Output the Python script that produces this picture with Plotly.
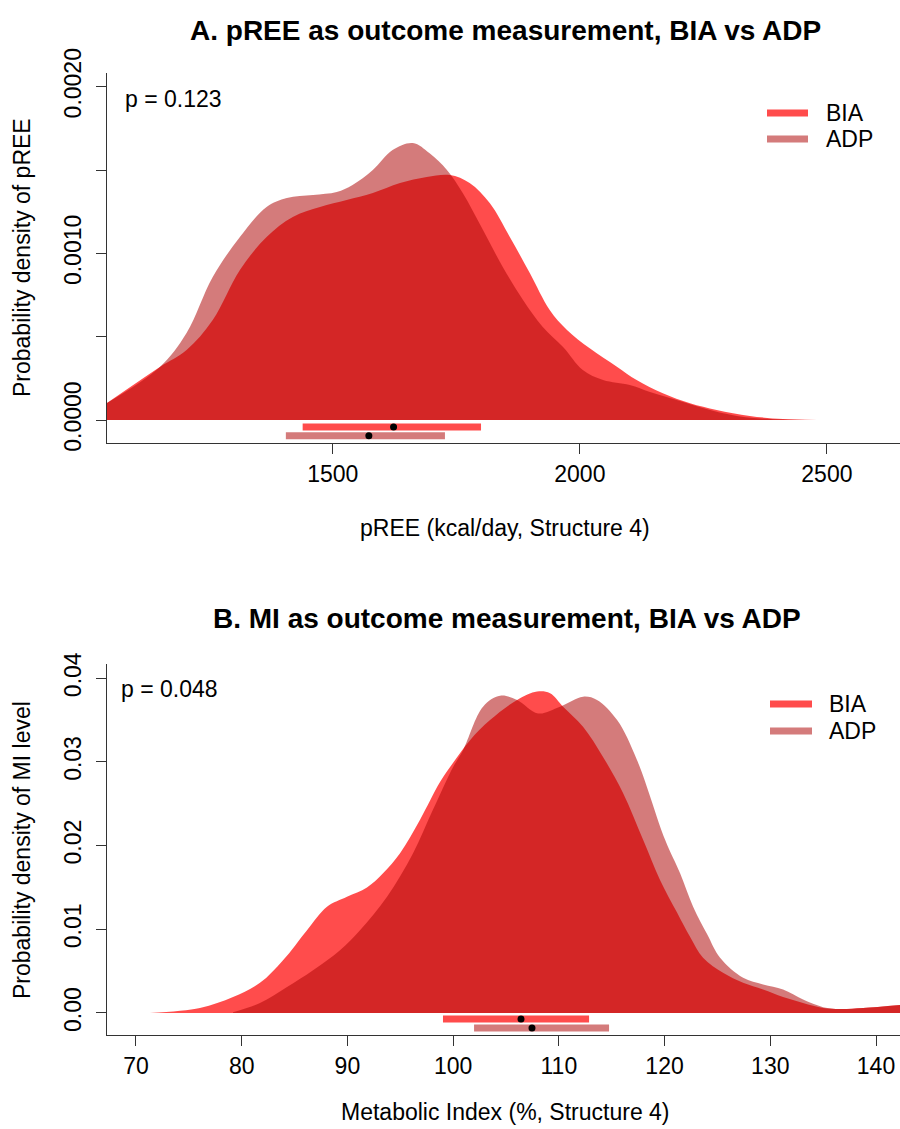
import plotly.graph_objects as go

# ---------------- Data ----------------
# Panel A: pREE densities (kcal/day)
pree_bia_x = [1043, 1150, 1204, 1257, 1312, 1366, 1419, 1474, 1528, 1581, 1636, 1690, 1737,
              1777, 1818, 1858, 1899, 1939, 1974, 2020, 2075, 2115, 2168, 2223, 2277, 2344, 2411, 2480]
pree_bia_d = [0.000102, 0.000318, 0.00042, 0.0006, 0.0009, 0.001098, 0.001218, 0.001278, 0.00132,
              0.001362, 0.001422, 0.001458, 0.00147, 0.001422, 0.0013, 0.0011, 0.00088, 0.00066,
              0.00054, 0.00043, 0.00032, 0.00024, 0.00016, 0.0001, 0.00006, 0.000024, 0.000006, 0.0]
pree_adp_x = [1043, 1150, 1204, 1257, 1312, 1366, 1407, 1460, 1508, 1540, 1581, 1621, 1662, 1696,
              1731, 1763, 1804, 1844, 1885, 1925, 1966, 2006, 2047, 2101, 2142, 2196, 2249, 2318,
              2385, 2472]
pree_adp_d = [0.000102, 0.000318, 0.000522, 0.000858, 0.001098, 0.001278, 0.001332, 0.00135,
              0.001368, 0.00141, 0.0015, 0.00162, 0.001662, 0.0016, 0.0015, 0.001362, 0.00114,
              0.000918, 0.00072, 0.000558, 0.000438, 0.0003, 0.00024, 0.00021, 0.000168, 0.00012,
              0.000072, 0.000024, 0.000006, 0.0]
# intervals (low, point, high)
pree_bia_ci = [1439, 1623, 1800]
pree_adp_ci = [1405, 1573, 1727]
pree_p = "p = 0.123"

# Panel B: Metabolic Index densities (%)
mi_bia_x = [71.32, 76.05, 79.18, 81.73, 83.91, 86.18, 88.07, 89.96, 91.85, 93.37, 94.98, 96.87,
            98.76, 100.0, 101.60, 103.49, 106.05, 107.94, 109.17, 110.40, 112.29, 114.18, 116.07,
            117.97, 119.57, 121.18, 122.41, 123.64, 125.53, 127.43, 129.32, 131.21, 133.10,
            134.99, 136.60, 138.78, 142.28]
mi_bia_d = [0.0, 0.0006, 0.0019, 0.0036, 0.0063, 0.0099, 0.0127, 0.0139, 0.0150, 0.0167, 0.0191,
            0.0231, 0.0276, 0.0299, 0.0326, 0.0350, 0.0374, 0.0384, 0.0382, 0.0366, 0.0342,
            0.0306, 0.0263, 0.0207, 0.0159, 0.0120, 0.0091, 0.0066, 0.0048, 0.0036, 0.0028,
            0.0019, 0.0012, 0.0006, 0.00048, 0.0006, 0.00096]
mi_adp_x = [79.18, 81.73, 84.29, 86.75, 89.30, 91.19, 93.75, 96.21, 98.10, 100.0, 100.94, 102.83,
            104.44, 106.05, 108.03, 110.11, 112.29, 113.61, 115.51, 117.40, 120.05, 121.47,
            122.70, 124.03, 125.25, 127.43, 129.32, 131.21, 133.10, 134.99, 136.60, 138.78, 142.28]
mi_adp_d = [0.0001, 0.0012, 0.0031, 0.0051, 0.0075, 0.0099, 0.0139, 0.0191, 0.0243, 0.0294,
            0.0314, 0.0366, 0.0379, 0.0374, 0.0358, 0.0366, 0.0378, 0.0374, 0.0350, 0.0302,
            0.0207, 0.0167, 0.0127, 0.0094, 0.0066, 0.0042, 0.0034, 0.0028, 0.0016, 0.0007,
            0.00048, 0.0006, 0.00096]
mi_bia_ci = [99.04, 106.42, 112.86]
mi_adp_ci = [101.98, 107.46, 114.75]
mi_p = "p = 0.048"

series_names = ["BIA", "ADP"]
titles = ["A. pREE as outcome measurement, BIA vs ADP", "B. MI as outcome measurement, BIA vs ADP"]
x_titles = ["pREE (kcal/day, Structure 4)", "Metabolic Index (%, Structure 4)"]
y_titles = ["Probability density of pREE", "Probability density of MI level"]
top_yticks = [0, 0.0005, 0.001, 0.0015, 0.002]
top_yticktext = ["0.0000", "", "0.0010", "", "0.0020"]
top_xticks = [1500, 2000, 2500]
bot_yticks = [0, 0.01, 0.02, 0.03, 0.04]
bot_yticktext = ["0.00", "0.01", "0.02", "0.03", "0.04"]
bot_xticks = [70, 80, 90, 100, 110, 120, 130, 140]

# ---------------- Styles ----------------
BIA_COL = "rgba(255,0,0,0.70)"
ADP_COL = "rgba(174,6,6,0.53)"
COLS = [BIA_COL, ADP_COL]
FONT = "Liberation Sans, Arial, Helvetica, sans-serif"
AX = "#333333"
W, H = 900, 1129

def py(px):
    return 1 - px / H

def pxx(px):
    return px / W

fig = go.Figure()

def add_panel(xa, ya, bx, bd, ax_, ad, bci, aci, ybar):
    for xs, ds, col in [(bx, bd, BIA_COL), (ax_, ad, ADP_COL)]:
        fig.add_trace(go.Scatter(x=xs, y=ds, mode="lines",
                                 line=dict(width=0, shape="spline", smoothing=1.0),
                                 fill="tozeroy", fillcolor=col, showlegend=False, hoverinfo="skip",
                                 xaxis=xa, yaxis=ya))
    for ci, yy, col in [(bci, ybar[0], BIA_COL), (aci, ybar[1], ADP_COL)]:
        fig.add_trace(go.Scatter(x=[ci[0], ci[2]], y=[yy, yy], mode="lines",
                                 line=dict(color=col, width=7), showlegend=False, hoverinfo="skip",
                                 xaxis=xa, yaxis=ya))
        fig.add_trace(go.Scatter(x=[ci[1]], y=[yy], mode="markers",
                                 marker=dict(color="black", size=7), showlegend=False, hoverinfo="skip",
                                 xaxis=xa, yaxis=ya))

add_panel("x", "y", pree_bia_x, pree_bia_d, pree_adp_x, pree_adp_d, pree_bia_ci, pree_adp_ci,
          [-0.000042, -0.000094])
add_panel("x2", "y2", mi_bia_x, mi_bia_d, mi_adp_x, mi_adp_d, mi_bia_ci, mi_adp_ci,
          [-0.00072, -0.00179])

axis_common = dict(showline=True, linecolor=AX, linewidth=1.3, ticks="outside", ticklen=10,
                   tickwidth=1.2, tickcolor=AX, showgrid=False, zeroline=False, automargin=False,
                   tickfont=dict(family=FONT, size=23, color="black"), mirror=False)

x0 = 107 / W

annotations = [
    dict(text="<b>" + titles[0] + "</b>", x=pxx(505), y=py(31), font=dict(size=28)),
    dict(text="<b>" + titles[1] + "</b>", x=pxx(507), y=py(618), font=dict(size=28)),
    dict(text=pree_p, x=pxx(123), y=py(99), xanchor="left"),
    dict(text=mi_p, x=pxx(119), y=py(689), xanchor="left"),
    dict(text=x_titles[0], x=pxx(505), y=py(528)),
    dict(text=x_titles[1], x=pxx(505), y=py(1112)),
    dict(text=y_titles[0], x=pxx(22), y=py(258), textangle=-90),
    dict(text=y_titles[1], x=pxx(22), y=py(850), textangle=-90),
]
shapes = []
# legends (manual, to match R's legend layout)
for (lx0, lx1, tx, ys) in [(767, 808, 824, [113, 139]), (770, 812, 827, [704, 731])]:
    for nm, col, yy in zip(series_names, COLS, ys):
        shapes.append(dict(type="line", xref="paper", yref="paper", x0=pxx(lx0), x1=pxx(lx1),
                           y0=py(yy), y1=py(yy), line=dict(color=col, width=7)))
        annotations.append(dict(text=nm, x=pxx(tx), y=py(yy), xanchor="left"))

for a in annotations:
    a.setdefault("xref", "paper")
    a.setdefault("yref", "paper")
    a.setdefault("showarrow", False)
    a.setdefault("xanchor", "center")
    a.setdefault("yanchor", "middle")
    f = a.get("font", {})
    f.setdefault("family", FONT)
    f.setdefault("size", 23)
    f.setdefault("color", "black")
    a["font"] = f

fig.update_layout(
    width=W, height=H, margin=dict(l=0, r=0, t=0, b=0, autoexpand=False),
    paper_bgcolor="white", plot_bgcolor="white", showlegend=False,
    font=dict(family=FONT, size=23, color="black"),
    xaxis=dict(domain=[x0, 1], range=[1043, 2648], tickvals=top_xticks, anchor="y", **axis_common),
    yaxis=dict(domain=[py(443), py(73)], range=[-0.000138, 0.002082], tickvals=top_yticks,
               ticktext=top_yticktext, tickangle=-90, anchor="x", ticklabelstandoff=6, **axis_common),
    xaxis2=dict(domain=[x0, 1], range=[67.26, 142.27], tickvals=bot_xticks, anchor="y2", **axis_common),
    yaxis2=dict(domain=[py(1035), py(664)], range=[-0.00263, 0.0417], tickvals=bot_yticks,
                ticktext=bot_yticktext, tickangle=-90, anchor="x2", ticklabelstandoff=6, **axis_common),
    annotations=annotations,
    shapes=shapes,
)

fig.write_html("out.html")
